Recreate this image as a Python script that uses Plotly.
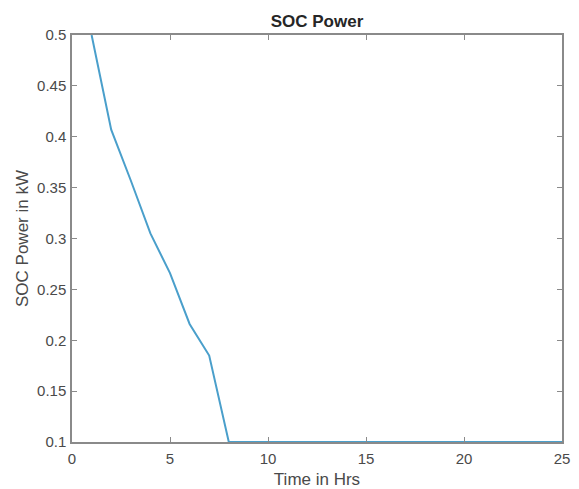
import plotly.graph_objects as go

# SOC power (hourly)
hours = [1, 2, 3, 4, 5, 6, 7, 8, 9, 10, 11, 12, 13, 14, 15, 16, 17, 18, 19, 20, 21, 22, 23, 24, 25]
soc_power = [0.5, 0.407, 0.357, 0.305, 0.266, 0.216, 0.185, 0.1, 0.1, 0.1, 0.1, 0.1, 0.1,
             0.1, 0.1, 0.1, 0.1, 0.1, 0.1, 0.1, 0.1, 0.1, 0.1, 0.1, 0.1]

x_ticks = [0, 5, 10, 15, 20, 25]
y_ticks = [0.1, 0.15, 0.2, 0.25, 0.3, 0.35, 0.4, 0.45, 0.5]

fig = go.Figure()
fig.add_trace(go.Scatter(x=hours, y=soc_power, mode='lines',
                         line=dict(color='#4a9fcb', width=2),
                         showlegend=False))

axis_style = dict(showline=True, linecolor='#8a8a8a', linewidth=1.5, mirror='ticks',
                  ticks='inside', ticklen=5, tickcolor='#8a8a8a', showgrid=False,
                  zeroline=False, automargin=False,
                  tickfont=dict(size=15, color='#4a4a4a'))

# page body adds an 8px offset, so the figure is a bit smaller than the window
fig.update_layout(
    width=563, height=481,
    margin=dict(l=64, r=9, t=27, b=47),
    paper_bgcolor='white', plot_bgcolor='white',
    font=dict(family='Liberation Sans, Arial, sans-serif', color='#4a4a4a'),
    title=dict(text='<b>SOC Power</b>', x=0.5, xref='paper', y=0.973, yanchor='middle',
               font=dict(size=17, color='#262626')),
    xaxis=dict(range=[0, 25], tickvals=x_ticks, ticklabelstandoff=2,
               title=dict(text='Time in Hrs', font=dict(size=17, color='#4a4a4a'), standoff=8),
               **axis_style),
    yaxis=dict(range=[0.1, 0.5], tickvals=y_ticks, ticktext=[f'{v:g}' for v in y_ticks],
               ticklabelstandoff=1,
               title=dict(text='SOC Power in kW', font=dict(size=17, color='#4a4a4a'), standoff=4),
               **axis_style),
)

fig.write_html("out.html")
